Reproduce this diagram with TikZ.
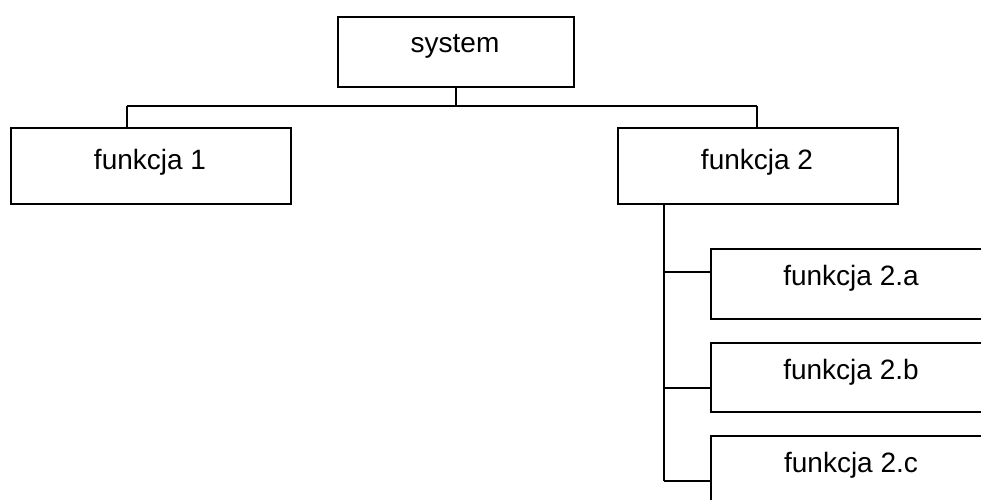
\documentclass[tikz,border=0pt]{standalone}
\usepackage{fontspec}
\setmainfont{Liberation Sans}
\begin{document}
\begin{tikzpicture}[x=1pt,y=-1pt,line width=1.8pt,
  box/.style={draw,rectangle,inner sep=0pt,anchor=north west},
  lbl/.style={anchor=base,inner sep=0pt,font=\fontsize{28}{32}\selectfont}]
\useasboundingbox (0,0) rectangle (981,499);
\clip (0,0) rectangle (981,499);

% boxes
\node[box,minimum width=236pt,minimum height=70pt] (sys) at (337,16) {};
\node[box,minimum width=280pt,minimum height=76pt] (f1) at (10,127) {};
\node[box,minimum width=280pt,minimum height=76pt] (f2) at (617,127) {};
\node[box,minimum width=282pt,minimum height=70pt] (f2a) at (710,248) {};
\node[box,minimum width=282pt,minimum height=69pt] (f2b) at (710,342) {};
\node[box,minimum width=282pt,minimum height=70pt] (f2c) at (710,435) {};

% labels
\node[lbl] (tsys) at (455,52) {system};
\node[lbl] (tf1) at (150,169) {funkcja 1};
\node[lbl] (tf2) at (757,169) {funkcja 2};
\node[lbl] (tf2a) at (851,285) {funkcja 2.a};
\node[lbl] (tf2b) at (851,379) {funkcja 2.b};
\node[lbl] (tf2c) at (851,472) {funkcja 2.c};

% top level connectors
\coordinate (busL) at (127,106);
\coordinate (busR) at (757,106);
\draw (busL) -- (busR);
\draw (sys.south) -- (sys.south |- busL);
\draw (busL) -- (busL |- f1.north);
\draw (busR) -- (busR |- f2.north);

% second level connectors
\coordinate (trunkTop) at (664,203);
\coordinate (ja) at (664,272);
\coordinate (jb) at (664,388);
\coordinate (jc) at (664,481);
\draw (trunkTop) -- (jc);
\draw (ja) -- (ja -| f2a.west);
\draw (jb) -- (jb -| f2b.west);
\draw (jc) -- (jc -| f2c.west);
\end{tikzpicture}
\end{document}
